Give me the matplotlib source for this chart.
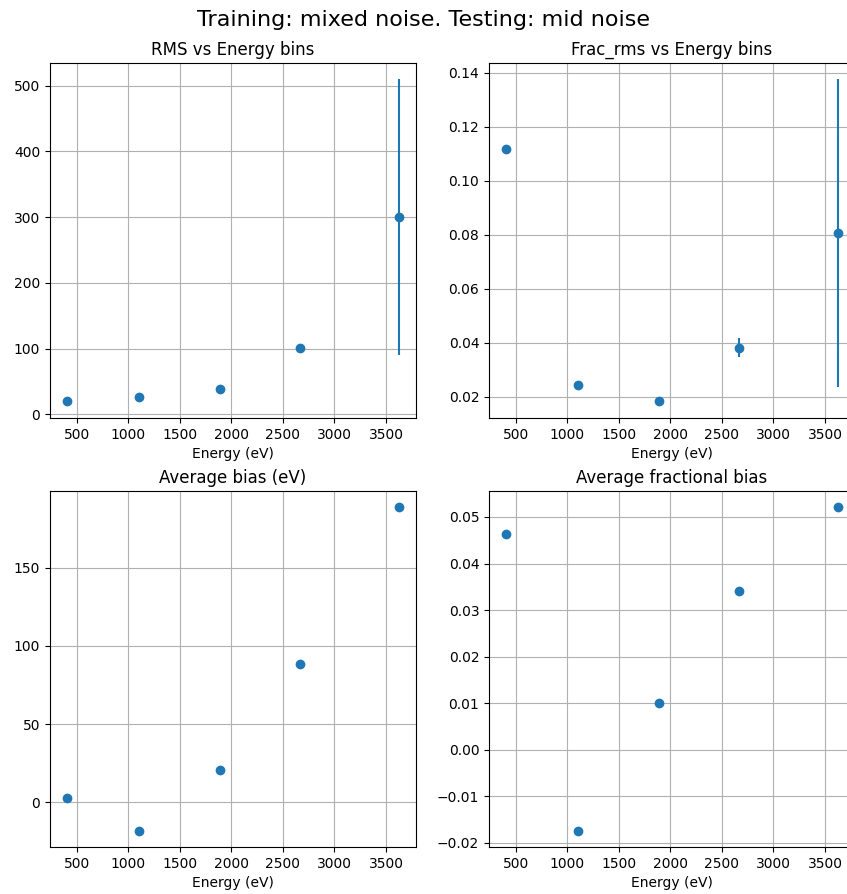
import numpy as np
import matplotlib
matplotlib.use("Agg")
import matplotlib.pyplot as plt

# energy bin centres (eV)
energy = [400, 1100, 1890, 2665, 3630]

# RMS per bin and its error
rms = [20, 27, 38, 101, 300]
rms_err = [1, 1, 1.5, 5, 210]

# fractional rms per bin and its error
frac_rms = [0.1117, 0.0242, 0.0184, 0.0382, 0.0807]
frac_rms_err = [0.0003, 0.0003, 0.0003, 0.0035, 0.057]

# biases
bias = [2.9, -18.3, 20.5, 88.4, 188.8]
frac_bias = [0.0463, -0.0174, 0.0101, 0.034, 0.0521]

W, H = 847, 894
fig = plt.figure(figsize=(W / 100, H / 100), dpi=100)

def box(l, r, t, b):
    # pixel box -> figure fraction
    return [l / W, 1 - b / H, (r - l) / W, (b - t) / H]

ax1 = fig.add_axes(box(50, 416, 63, 418))
ax2 = fig.add_axes(box(489, 855, 63, 418))
ax3 = fig.add_axes(box(50, 416, 491, 847))
ax4 = fig.add_axes(box(489, 855, 491, 847))

ax1.errorbar(energy, rms, yerr=rms_err, fmt='o')
ax1.set_title("RMS vs Energy bins")
ax1.set_xlabel("Energy (eV)")

ax2.errorbar(energy, frac_rms, yerr=frac_rms_err, fmt='o')
ax2.set_title("Frac_rms vs Energy bins")
ax2.set_xlabel("Energy (eV)")

ax3.plot(energy, bias, 'o')
ax3.set_title("Average bias (eV)")
ax3.set_xlabel("Energy (eV)")

ax4.plot(energy, frac_bias, 'o')
ax4.set_title("Average fractional bias")
ax4.set_xlabel("Energy (eV)")

for ax in (ax1, ax2, ax3, ax4):
    ax.grid(True)
    ax.tick_params(labelsize=10)

fig.suptitle("Training: mixed noise. Testing: mid noise", fontsize=16, y=1 - 20 / H, va='center')

fig.savefig("out.png", dpi=100)
